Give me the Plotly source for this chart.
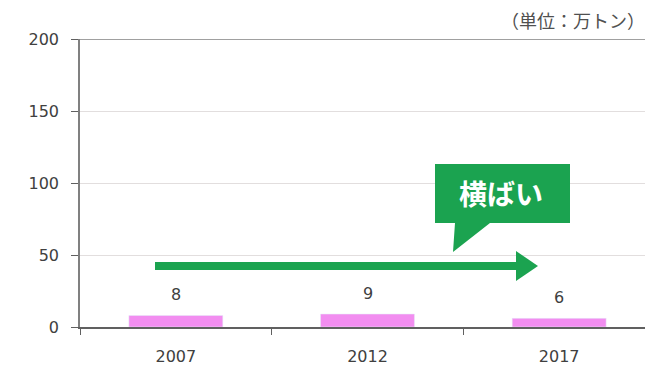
import plotly.graph_objects as go

categories = ["2007", "2012", "2017"]
values = [8, 9, 6]
y_ticks = [0, 50, 100, 150, 200]
unit_label = "（単位：万トン）"
callout_text = "横ばい"

W, H = 653, 366
L, R, T, B = 72, 647, 31, 319

def px(x):
    return (x - L) / (R - L)

def py(y):
    return (B - y) / (B - T)

def path(points):
    return "M " + " L ".join(f"{px(x):.5f},{py(y):.5f}" for x, y in points) + " Z"

GREEN = "#1BA350"
BAR = "#F28DF0"
TXT = "#404040"
FONT = "Noto Sans CJK JP"
NUMFONT = "DejaVu Sans"
FS = 16

xpos = list(range(len(categories)))
boundaries = [i - 0.5 for i in range(len(categories) + 1)]

fig = go.Figure()
fig.add_trace(go.Bar(
    x=xpos, y=values, marker_color=BAR, width=0.49,
    hoverinfo="skip",
))

annotations = []
for xi, v in zip(xpos, values):
    annotations.append(dict(
        x=xi, y=v, xref="x", yref="y", text=str(v), showarrow=False,
        yanchor="middle", yshift=21, font=dict(size=FS, color=TXT, family=NUMFONT),
    ))

annotations.append(dict(
    x=1.0, y=1, xref="paper", yref="paper", text=unit_label, showarrow=False,
    xanchor="right", yanchor="middle", yshift=(T - 12), xshift=-8,
    font=dict(size=18, color="#505050", family=FONT),
))
annotations.append(dict(
    x=px(493), y=py(185), xref="paper", yref="paper", text="<b>" + callout_text + "</b>",
    showarrow=False, xanchor="center", yanchor="middle",
    font=dict(size=28, color="white", family=FONT),
))

shapes = [
    dict(type="line", xref="paper", yref="y", x0=0, x1=1, y0=200, y1=200,
         line=dict(color="#808080", width=1.5), layer="above"),
    dict(type="line", xref="paper", yref="paper", x0=1, x1=1, y0=0, y1=1,
         line=dict(color="#c8c8c8", width=1)),
    dict(type="line", xref="paper", yref="paper", x0=px(147), x1=px(510), y0=py(258), y1=py(258),
         line=dict(color=GREEN, width=8)),
    dict(type="path", xref="paper", yref="paper",
         path=path([(508, 243), (530, 258), (508, 273)]),
         fillcolor=GREEN, line=dict(width=0)),
    dict(type="path", xref="paper", yref="paper",
         path=path([(427, 156), (562, 156), (562, 215), (482, 215), (445, 244), (447, 215), (427, 215)]),
         fillcolor=GREEN, line=dict(width=0)),
]

fig.update_layout(
    width=W, height=H,
    margin=dict(l=L, r=W - R, t=T, b=H - B),
    paper_bgcolor="white", plot_bgcolor="white",
    showlegend=False, annotations=annotations, shapes=shapes,
    font=dict(family=FONT, size=FS, color=TXT),
)
fig.update_xaxes(
    range=[-0.5, len(categories) - 0.5], tickmode="array", tickvals=xpos, ticktext=categories,
    showline=True, linecolor="#606060", linewidth=1.5,
    ticks="", showgrid=False, zeroline=False, ticklabelstandoff=14,
    minor=dict(tickmode="array", tickvals=boundaries, ticks="outside", ticklen=6,
               tickcolor="#606060", showgrid=False),
    tickfont=dict(size=FS, color=TXT, family=NUMFONT),
)
fig.update_yaxes(
    range=[0, 200], tickvals=y_ticks, showline=True, linecolor="#808080", linewidth=1.5,
    ticks="outside", ticklen=7, tickcolor="#606060", showgrid=True, gridcolor="#e2dede",
    gridwidth=1, zeroline=False, ticklabelstandoff=9,
    tickfont=dict(size=FS, color=TXT, family=NUMFONT),
)

fig.write_html("out.html")
